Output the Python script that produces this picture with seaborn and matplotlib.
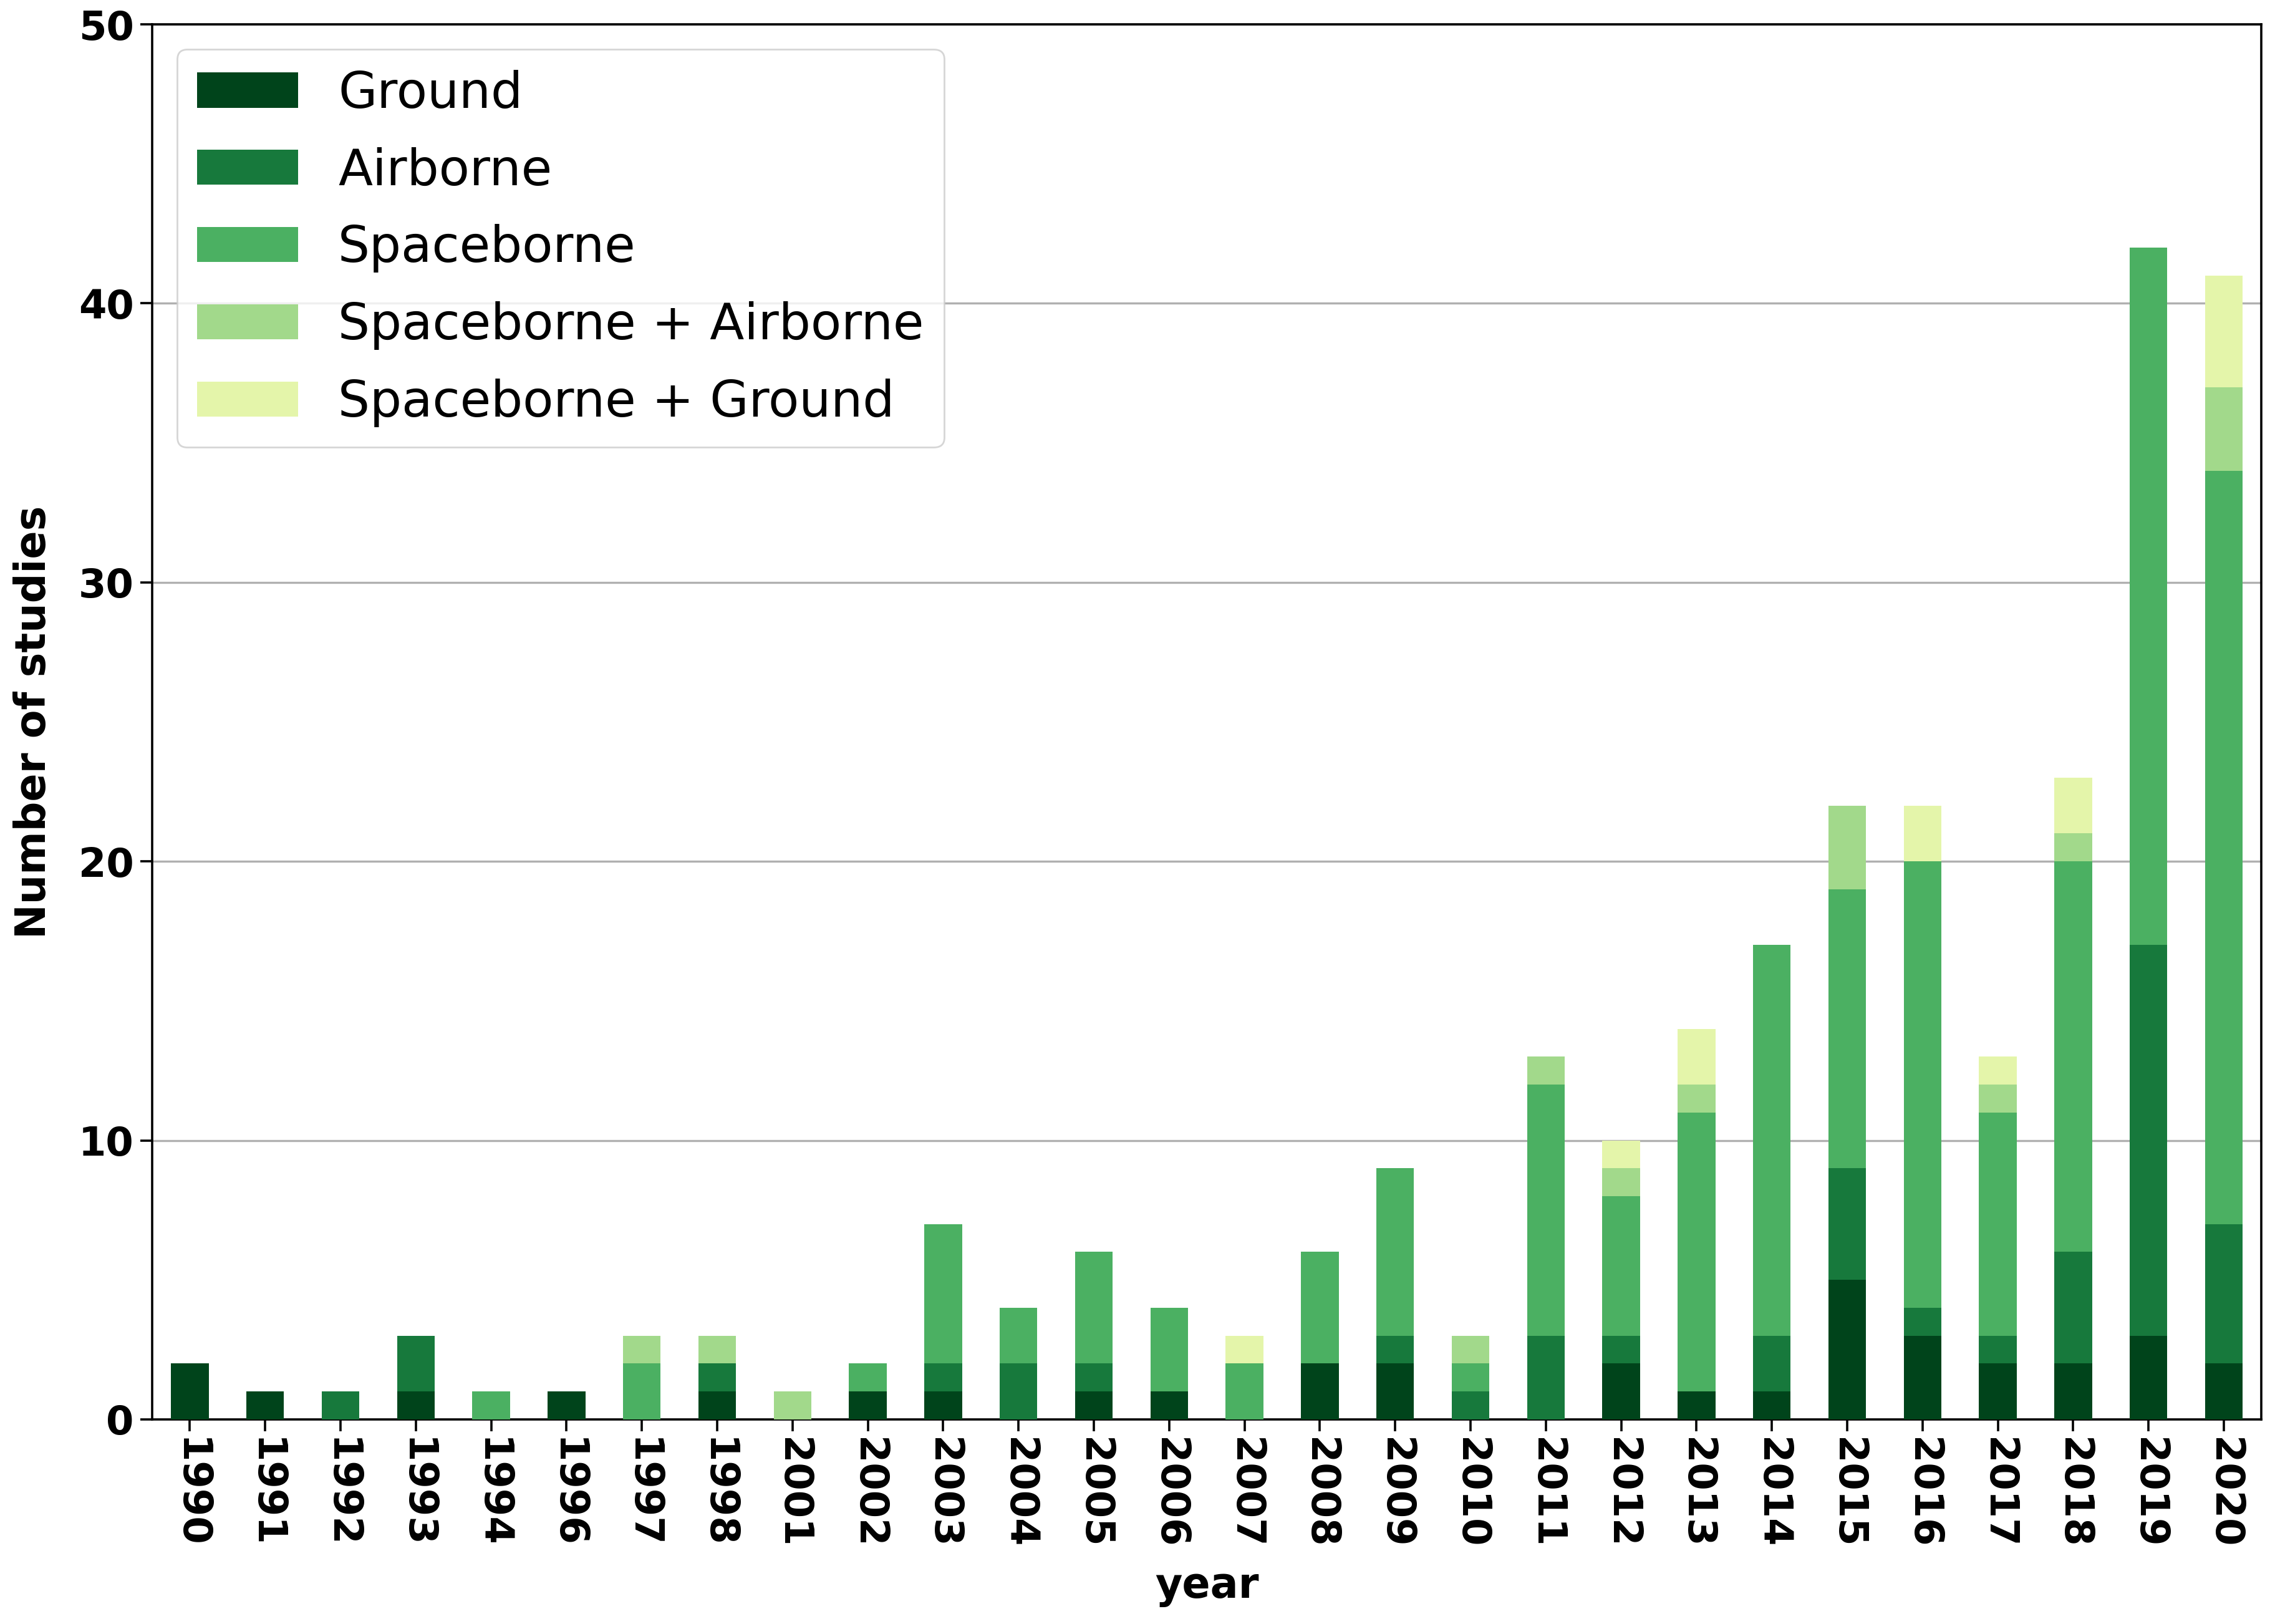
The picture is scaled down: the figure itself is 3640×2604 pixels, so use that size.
import numpy as np
import matplotlib
matplotlib.use('Agg')
import matplotlib.pyplot as plt
import seaborn as sns

years = ['1990', '1991', '1992', '1993', '1994', '1996', '1997', '1998', '2001', '2002',
         '2003', '2004', '2005', '2006', '2007', '2008', '2009', '2010', '2011', '2012',
         '2013', '2014', '2015', '2016', '2017', '2018', '2019', '2020']

ground = [2, 1, 0, 1, 0, 1, 0, 1, 0, 1, 1, 0, 1, 1, 0, 2, 2, 0, 0, 2, 1, 1, 5, 3, 2, 2, 3, 2]
airborne = [0, 0, 1, 2, 0, 0, 0, 1, 0, 0, 1, 2, 1, 0, 0, 0, 1, 1, 3, 1, 0, 2, 4, 1, 1, 4, 14, 5]
spaceborne = [0, 0, 0, 0, 1, 0, 2, 0, 0, 1, 5, 2, 4, 3, 2, 4, 6, 1, 9, 5, 10, 14, 10, 16, 8, 14, 25, 27]
space_air = [0, 0, 0, 0, 0, 0, 1, 1, 1, 0, 0, 0, 0, 0, 0, 0, 0, 1, 1, 1, 1, 0, 3, 0, 1, 1, 0, 3]
space_ground = [0, 0, 0, 0, 0, 0, 0, 0, 0, 0, 0, 0, 0, 0, 1, 0, 0, 0, 0, 1, 2, 0, 0, 2, 1, 2, 0, 4]

series = {
    'Ground': ground,
    'Airborne': airborne,
    'Spaceborne': spaceborne,
    'Spaceborne + Airborne': space_air,
    'Spaceborne + Ground': space_ground,
}
colors = ['#00441b', '#17793c', '#4bb062', '#a2d98b', '#e4f5aa']

fig = plt.figure(figsize=(18.205, 13.02), dpi=200)
ax = fig.add_axes([0.067, 0.126, 0.929, 0.859])

# stack the layers one on top of the other
bottom = np.zeros(len(years))
for (name, vals), col in zip(series.items(), colors):
    sns.barplot(x=years, y=vals, bottom=bottom, color=col, label=name,
                width=0.5, linewidth=0, saturation=1, ax=ax, zorder=3)
    bottom = bottom + np.array(vals)

ax.set_ylim(0, 50)
ax.set_yticks([0, 10, 20, 30, 40, 50])
ax.set_xlim(-0.5, len(years) - 0.5)
ax.yaxis.grid(True, color='#b0b0b0', linewidth=1.2, zorder=0)
ax.set_axisbelow(True)
for s in ax.spines.values():
    s.set_linewidth(1.3)
    s.set_color('black')

ax.tick_params(axis='both', labelsize=23, width=1.3, length=7)
for lab in ax.get_xticklabels():
    lab.set_rotation(-90)
    lab.set_fontweight('bold')
for lab in ax.get_yticklabels():
    lab.set_fontweight('bold')

ax.set_xlabel('year', fontsize=24, fontweight='bold', labelpad=10)
ax.set_ylabel('Number of studies', fontsize=24, fontweight='bold', labelpad=14)

ax.legend(loc='upper left', fontsize=29, frameon=True, framealpha=0.8,
          borderaxespad=0.5, labelspacing=0.57)

fig.savefig('out.png', dpi=200)
